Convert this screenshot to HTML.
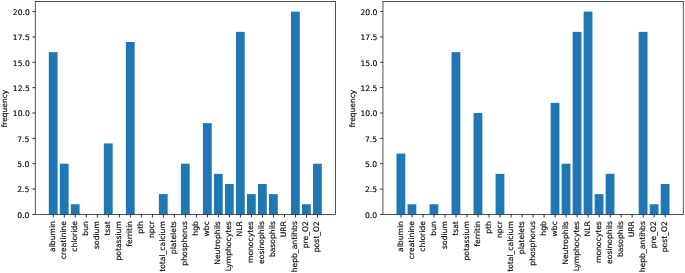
<!DOCTYPE html>
<html lang="en"><head><meta charset="utf-8"><title>frequency charts</title>
<style>text{stroke:#000;stroke-width:0.14px;fill:#000}html,body{margin:0;padding:0;background:#fff;overflow:hidden}svg{display:block;filter:blur(0.3px)}</style>
</head><body>
<svg width="685" height="273" viewBox="0 0 685 273" font-family="'DejaVu Sans', 'Liberation Sans', sans-serif" font-size="7.62" fill="#1a1a1a">
<rect width="685" height="273" fill="#fff"/>
<g>
<rect x="48.80" y="52.15" width="8.81" height="162.25" fill="#1f77b4"/>
<rect x="59.81" y="163.70" width="8.81" height="50.70" fill="#1f77b4"/>
<rect x="70.82" y="204.26" width="8.81" height="10.14" fill="#1f77b4"/>
<rect x="103.84" y="143.42" width="8.81" height="70.98" fill="#1f77b4"/>
<rect x="125.86" y="42.01" width="8.81" height="172.39" fill="#1f77b4"/>
<rect x="158.88" y="194.12" width="8.81" height="20.28" fill="#1f77b4"/>
<rect x="180.90" y="163.70" width="8.81" height="50.70" fill="#1f77b4"/>
<rect x="202.91" y="123.14" width="8.81" height="91.26" fill="#1f77b4"/>
<rect x="213.92" y="173.84" width="8.81" height="40.56" fill="#1f77b4"/>
<rect x="224.93" y="183.98" width="8.81" height="30.42" fill="#1f77b4"/>
<rect x="235.94" y="31.87" width="8.81" height="182.53" fill="#1f77b4"/>
<rect x="246.95" y="194.12" width="8.81" height="20.28" fill="#1f77b4"/>
<rect x="257.95" y="183.98" width="8.81" height="30.42" fill="#1f77b4"/>
<rect x="268.96" y="194.12" width="8.81" height="20.28" fill="#1f77b4"/>
<rect x="290.98" y="11.59" width="8.81" height="202.81" fill="#1f77b4"/>
<rect x="301.99" y="204.26" width="8.81" height="10.14" fill="#1f77b4"/>
<rect x="312.99" y="163.70" width="8.81" height="50.70" fill="#1f77b4"/>
<rect x="35.25" y="1.45" width="300.30" height="212.95" fill="none" stroke="#1a1a1a" stroke-width="0.75"/>
<line x1="53.30" y1="214.40" x2="53.30" y2="217.50" stroke="#1a1a1a" stroke-width="0.9"/>
<text transform="translate(54.95,221.15) rotate(-90)" text-anchor="end">albumin</text>
<line x1="64.31" y1="214.40" x2="64.31" y2="217.50" stroke="#1a1a1a" stroke-width="0.9"/>
<text transform="translate(65.96,221.15) rotate(-90)" text-anchor="end">creatinine</text>
<line x1="75.32" y1="214.40" x2="75.32" y2="217.50" stroke="#1a1a1a" stroke-width="0.9"/>
<text transform="translate(76.97,221.15) rotate(-90)" text-anchor="end">chloride</text>
<line x1="86.33" y1="214.40" x2="86.33" y2="217.50" stroke="#1a1a1a" stroke-width="0.9"/>
<text transform="translate(87.98,221.15) rotate(-90)" text-anchor="end">bun</text>
<line x1="97.34" y1="214.40" x2="97.34" y2="217.50" stroke="#1a1a1a" stroke-width="0.9"/>
<text transform="translate(98.99,221.15) rotate(-90)" text-anchor="end">sodium</text>
<line x1="108.34" y1="214.40" x2="108.34" y2="217.50" stroke="#1a1a1a" stroke-width="0.9"/>
<text transform="translate(109.99,221.15) rotate(-90)" text-anchor="end">tsat</text>
<line x1="119.35" y1="214.40" x2="119.35" y2="217.50" stroke="#1a1a1a" stroke-width="0.9"/>
<text transform="translate(121.00,221.15) rotate(-90)" text-anchor="end">potassium</text>
<line x1="130.36" y1="214.40" x2="130.36" y2="217.50" stroke="#1a1a1a" stroke-width="0.9"/>
<text transform="translate(132.01,221.15) rotate(-90)" text-anchor="end">ferritin</text>
<line x1="141.37" y1="214.40" x2="141.37" y2="217.50" stroke="#1a1a1a" stroke-width="0.9"/>
<text transform="translate(143.02,221.15) rotate(-90)" text-anchor="end">pth</text>
<line x1="152.38" y1="214.40" x2="152.38" y2="217.50" stroke="#1a1a1a" stroke-width="0.9"/>
<text transform="translate(154.03,221.15) rotate(-90)" text-anchor="end">npcr</text>
<line x1="163.38" y1="214.40" x2="163.38" y2="217.50" stroke="#1a1a1a" stroke-width="0.9"/>
<text transform="translate(165.03,221.15) rotate(-90)" text-anchor="end">total_calcium</text>
<line x1="174.39" y1="214.40" x2="174.39" y2="217.50" stroke="#1a1a1a" stroke-width="0.9"/>
<text transform="translate(176.04,221.15) rotate(-90)" text-anchor="end">platelets</text>
<line x1="185.40" y1="214.40" x2="185.40" y2="217.50" stroke="#1a1a1a" stroke-width="0.9"/>
<text transform="translate(187.05,221.15) rotate(-90)" text-anchor="end">phosphorus</text>
<line x1="196.41" y1="214.40" x2="196.41" y2="217.50" stroke="#1a1a1a" stroke-width="0.9"/>
<text transform="translate(198.06,221.15) rotate(-90)" text-anchor="end">hgb</text>
<line x1="207.42" y1="214.40" x2="207.42" y2="217.50" stroke="#1a1a1a" stroke-width="0.9"/>
<text transform="translate(209.07,221.15) rotate(-90)" text-anchor="end">wbc</text>
<line x1="218.42" y1="214.40" x2="218.42" y2="217.50" stroke="#1a1a1a" stroke-width="0.9"/>
<text transform="translate(220.07,221.15) rotate(-90)" text-anchor="end">Neutrophils</text>
<line x1="229.43" y1="214.40" x2="229.43" y2="217.50" stroke="#1a1a1a" stroke-width="0.9"/>
<text transform="translate(231.08,221.15) rotate(-90)" text-anchor="end">Lymphocytes</text>
<line x1="240.44" y1="214.40" x2="240.44" y2="217.50" stroke="#1a1a1a" stroke-width="0.9"/>
<text transform="translate(242.09,221.15) rotate(-90)" text-anchor="end">NLR</text>
<line x1="251.45" y1="214.40" x2="251.45" y2="217.50" stroke="#1a1a1a" stroke-width="0.9"/>
<text transform="translate(253.10,221.15) rotate(-90)" text-anchor="end">monocytes</text>
<line x1="262.46" y1="214.40" x2="262.46" y2="217.50" stroke="#1a1a1a" stroke-width="0.9"/>
<text transform="translate(264.11,221.15) rotate(-90)" text-anchor="end">eosinophils</text>
<line x1="273.46" y1="214.40" x2="273.46" y2="217.50" stroke="#1a1a1a" stroke-width="0.9"/>
<text transform="translate(275.11,221.15) rotate(-90)" text-anchor="end">basophils</text>
<line x1="284.47" y1="214.40" x2="284.47" y2="217.50" stroke="#1a1a1a" stroke-width="0.9"/>
<text transform="translate(286.12,221.15) rotate(-90)" text-anchor="end">URR</text>
<line x1="295.48" y1="214.40" x2="295.48" y2="217.50" stroke="#1a1a1a" stroke-width="0.9"/>
<text transform="translate(297.13,221.15) rotate(-90)" text-anchor="end">hepb_antihbs</text>
<line x1="306.49" y1="214.40" x2="306.49" y2="217.50" stroke="#1a1a1a" stroke-width="0.9"/>
<text transform="translate(308.14,221.15) rotate(-90)" text-anchor="end">pre_O2</text>
<line x1="317.50" y1="214.40" x2="317.50" y2="217.50" stroke="#1a1a1a" stroke-width="0.9"/>
<text transform="translate(319.15,221.15) rotate(-90)" text-anchor="end">post_O2</text>
<line x1="32.45" y1="214.40" x2="35.25" y2="214.40" stroke="#1a1a1a" stroke-width="0.9"/>
<text x="29.40" y="218.00" text-anchor="end">0.0</text>
<line x1="32.45" y1="189.05" x2="35.25" y2="189.05" stroke="#1a1a1a" stroke-width="0.9"/>
<text x="29.40" y="192.40" text-anchor="end">2.5</text>
<line x1="32.45" y1="163.70" x2="35.25" y2="163.70" stroke="#1a1a1a" stroke-width="0.9"/>
<text x="29.40" y="166.60" text-anchor="end">5.0</text>
<line x1="32.45" y1="138.35" x2="35.25" y2="138.35" stroke="#1a1a1a" stroke-width="0.9"/>
<text x="29.40" y="141.55" text-anchor="end">7.5</text>
<line x1="32.45" y1="113.00" x2="35.25" y2="113.00" stroke="#1a1a1a" stroke-width="0.9"/>
<text x="29.75" y="115.90" text-anchor="end">10.0</text>
<line x1="32.45" y1="87.64" x2="35.25" y2="87.64" stroke="#1a1a1a" stroke-width="0.9"/>
<text x="29.75" y="90.54" text-anchor="end">12.5</text>
<line x1="32.45" y1="62.29" x2="35.25" y2="62.29" stroke="#1a1a1a" stroke-width="0.9"/>
<text x="29.75" y="65.89" text-anchor="end">15.0</text>
<line x1="32.45" y1="36.94" x2="35.25" y2="36.94" stroke="#1a1a1a" stroke-width="0.9"/>
<text x="29.75" y="40.04" text-anchor="end">17.5</text>
<line x1="32.45" y1="11.59" x2="35.25" y2="11.59" stroke="#1a1a1a" stroke-width="0.9"/>
<text x="29.75" y="15.19" text-anchor="end">20.0</text>
<text transform="translate(6.70,108.52) rotate(-90)" text-anchor="middle" font-size="7.5">frequency</text>
</g>
<g>
<rect x="396.50" y="153.56" width="8.81" height="60.84" fill="#1f77b4"/>
<rect x="407.51" y="204.26" width="8.81" height="10.14" fill="#1f77b4"/>
<rect x="429.52" y="204.26" width="8.81" height="10.14" fill="#1f77b4"/>
<rect x="451.54" y="52.15" width="8.81" height="162.25" fill="#1f77b4"/>
<rect x="473.56" y="113.00" width="8.81" height="101.40" fill="#1f77b4"/>
<rect x="495.57" y="173.84" width="8.81" height="40.56" fill="#1f77b4"/>
<rect x="550.61" y="102.85" width="8.81" height="111.55" fill="#1f77b4"/>
<rect x="561.62" y="163.70" width="8.81" height="50.70" fill="#1f77b4"/>
<rect x="572.63" y="31.87" width="8.81" height="182.53" fill="#1f77b4"/>
<rect x="583.64" y="11.59" width="8.81" height="202.81" fill="#1f77b4"/>
<rect x="594.65" y="194.12" width="8.81" height="20.28" fill="#1f77b4"/>
<rect x="605.65" y="173.84" width="8.81" height="40.56" fill="#1f77b4"/>
<rect x="638.68" y="31.87" width="8.81" height="182.53" fill="#1f77b4"/>
<rect x="649.69" y="204.26" width="8.81" height="10.14" fill="#1f77b4"/>
<rect x="660.69" y="183.98" width="8.81" height="30.42" fill="#1f77b4"/>
<rect x="382.95" y="1.45" width="300.30" height="212.95" fill="none" stroke="#1a1a1a" stroke-width="0.75"/>
<line x1="401.00" y1="214.40" x2="401.00" y2="217.50" stroke="#1a1a1a" stroke-width="0.9"/>
<text transform="translate(402.65,221.15) rotate(-90)" text-anchor="end">albumin</text>
<line x1="412.01" y1="214.40" x2="412.01" y2="217.50" stroke="#1a1a1a" stroke-width="0.9"/>
<text transform="translate(413.66,221.15) rotate(-90)" text-anchor="end">creatinine</text>
<line x1="423.02" y1="214.40" x2="423.02" y2="217.50" stroke="#1a1a1a" stroke-width="0.9"/>
<text transform="translate(424.67,221.15) rotate(-90)" text-anchor="end">chloride</text>
<line x1="434.03" y1="214.40" x2="434.03" y2="217.50" stroke="#1a1a1a" stroke-width="0.9"/>
<text transform="translate(435.68,221.15) rotate(-90)" text-anchor="end">bun</text>
<line x1="445.04" y1="214.40" x2="445.04" y2="217.50" stroke="#1a1a1a" stroke-width="0.9"/>
<text transform="translate(446.69,221.15) rotate(-90)" text-anchor="end">sodium</text>
<line x1="456.04" y1="214.40" x2="456.04" y2="217.50" stroke="#1a1a1a" stroke-width="0.9"/>
<text transform="translate(457.69,221.15) rotate(-90)" text-anchor="end">tsat</text>
<line x1="467.05" y1="214.40" x2="467.05" y2="217.50" stroke="#1a1a1a" stroke-width="0.9"/>
<text transform="translate(468.70,221.15) rotate(-90)" text-anchor="end">potassium</text>
<line x1="478.06" y1="214.40" x2="478.06" y2="217.50" stroke="#1a1a1a" stroke-width="0.9"/>
<text transform="translate(479.71,221.15) rotate(-90)" text-anchor="end">ferritin</text>
<line x1="489.07" y1="214.40" x2="489.07" y2="217.50" stroke="#1a1a1a" stroke-width="0.9"/>
<text transform="translate(490.72,221.15) rotate(-90)" text-anchor="end">pth</text>
<line x1="500.08" y1="214.40" x2="500.08" y2="217.50" stroke="#1a1a1a" stroke-width="0.9"/>
<text transform="translate(501.73,221.15) rotate(-90)" text-anchor="end">npcr</text>
<line x1="511.08" y1="214.40" x2="511.08" y2="217.50" stroke="#1a1a1a" stroke-width="0.9"/>
<text transform="translate(512.73,221.15) rotate(-90)" text-anchor="end">total_calcium</text>
<line x1="522.09" y1="214.40" x2="522.09" y2="217.50" stroke="#1a1a1a" stroke-width="0.9"/>
<text transform="translate(523.74,221.15) rotate(-90)" text-anchor="end">platelets</text>
<line x1="533.10" y1="214.40" x2="533.10" y2="217.50" stroke="#1a1a1a" stroke-width="0.9"/>
<text transform="translate(534.75,221.15) rotate(-90)" text-anchor="end">phosphorus</text>
<line x1="544.11" y1="214.40" x2="544.11" y2="217.50" stroke="#1a1a1a" stroke-width="0.9"/>
<text transform="translate(545.76,221.15) rotate(-90)" text-anchor="end">hgb</text>
<line x1="555.12" y1="214.40" x2="555.12" y2="217.50" stroke="#1a1a1a" stroke-width="0.9"/>
<text transform="translate(556.77,221.15) rotate(-90)" text-anchor="end">wbc</text>
<line x1="566.12" y1="214.40" x2="566.12" y2="217.50" stroke="#1a1a1a" stroke-width="0.9"/>
<text transform="translate(567.77,221.15) rotate(-90)" text-anchor="end">Neutrophils</text>
<line x1="577.13" y1="214.40" x2="577.13" y2="217.50" stroke="#1a1a1a" stroke-width="0.9"/>
<text transform="translate(578.78,221.15) rotate(-90)" text-anchor="end">Lymphocytes</text>
<line x1="588.14" y1="214.40" x2="588.14" y2="217.50" stroke="#1a1a1a" stroke-width="0.9"/>
<text transform="translate(589.79,221.15) rotate(-90)" text-anchor="end">NLR</text>
<line x1="599.15" y1="214.40" x2="599.15" y2="217.50" stroke="#1a1a1a" stroke-width="0.9"/>
<text transform="translate(600.80,221.15) rotate(-90)" text-anchor="end">monocytes</text>
<line x1="610.16" y1="214.40" x2="610.16" y2="217.50" stroke="#1a1a1a" stroke-width="0.9"/>
<text transform="translate(611.81,221.15) rotate(-90)" text-anchor="end">eosinophils</text>
<line x1="621.16" y1="214.40" x2="621.16" y2="217.50" stroke="#1a1a1a" stroke-width="0.9"/>
<text transform="translate(622.81,221.15) rotate(-90)" text-anchor="end">basophils</text>
<line x1="632.17" y1="214.40" x2="632.17" y2="217.50" stroke="#1a1a1a" stroke-width="0.9"/>
<text transform="translate(633.82,221.15) rotate(-90)" text-anchor="end">URR</text>
<line x1="643.18" y1="214.40" x2="643.18" y2="217.50" stroke="#1a1a1a" stroke-width="0.9"/>
<text transform="translate(644.83,221.15) rotate(-90)" text-anchor="end">hepb_antihbs</text>
<line x1="654.19" y1="214.40" x2="654.19" y2="217.50" stroke="#1a1a1a" stroke-width="0.9"/>
<text transform="translate(655.84,221.15) rotate(-90)" text-anchor="end">pre_O2</text>
<line x1="665.20" y1="214.40" x2="665.20" y2="217.50" stroke="#1a1a1a" stroke-width="0.9"/>
<text transform="translate(666.85,221.15) rotate(-90)" text-anchor="end">post_O2</text>
<line x1="380.15" y1="214.40" x2="382.95" y2="214.40" stroke="#1a1a1a" stroke-width="0.9"/>
<text x="377.10" y="218.00" text-anchor="end">0.0</text>
<line x1="380.15" y1="189.05" x2="382.95" y2="189.05" stroke="#1a1a1a" stroke-width="0.9"/>
<text x="377.10" y="192.40" text-anchor="end">2.5</text>
<line x1="380.15" y1="163.70" x2="382.95" y2="163.70" stroke="#1a1a1a" stroke-width="0.9"/>
<text x="377.10" y="166.60" text-anchor="end">5.0</text>
<line x1="380.15" y1="138.35" x2="382.95" y2="138.35" stroke="#1a1a1a" stroke-width="0.9"/>
<text x="377.10" y="141.55" text-anchor="end">7.5</text>
<line x1="380.15" y1="113.00" x2="382.95" y2="113.00" stroke="#1a1a1a" stroke-width="0.9"/>
<text x="377.45" y="115.90" text-anchor="end">10.0</text>
<line x1="380.15" y1="87.64" x2="382.95" y2="87.64" stroke="#1a1a1a" stroke-width="0.9"/>
<text x="377.45" y="90.54" text-anchor="end">12.5</text>
<line x1="380.15" y1="62.29" x2="382.95" y2="62.29" stroke="#1a1a1a" stroke-width="0.9"/>
<text x="377.45" y="65.89" text-anchor="end">15.0</text>
<line x1="380.15" y1="36.94" x2="382.95" y2="36.94" stroke="#1a1a1a" stroke-width="0.9"/>
<text x="377.45" y="40.04" text-anchor="end">17.5</text>
<line x1="380.15" y1="11.59" x2="382.95" y2="11.59" stroke="#1a1a1a" stroke-width="0.9"/>
<text x="377.45" y="15.19" text-anchor="end">20.0</text>
<text transform="translate(355.15,108.52) rotate(-90)" text-anchor="middle" font-size="7.5">frequency</text>
</g>
</svg>
</body></html>
